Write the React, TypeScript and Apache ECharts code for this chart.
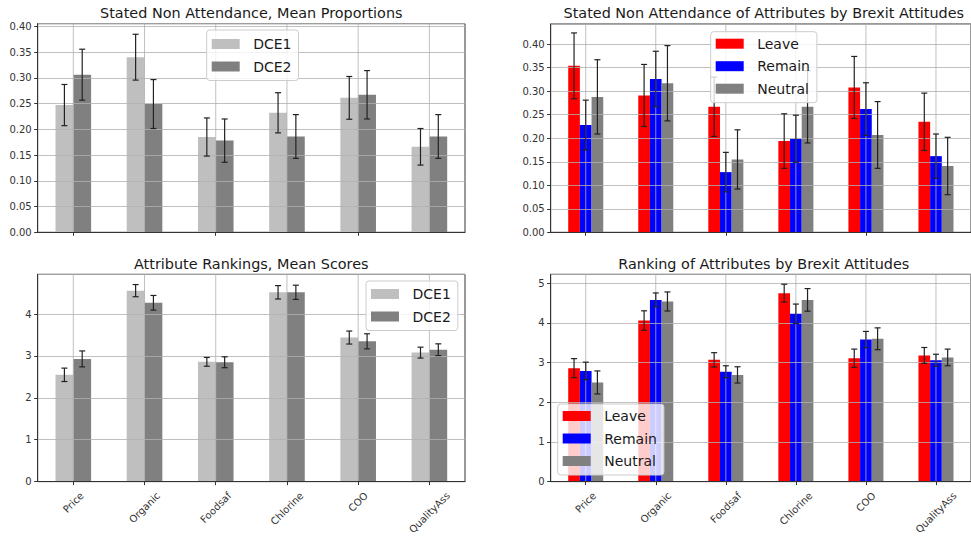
import React, { useEffect, useRef } from 'react';
import * as echarts from 'echarts';

const FONT = '"DejaVu Sans", sans-serif';

const categories = ['Price', 'Organic', 'Foodsaf', 'Chlorine', 'COO', 'QualityAss'];

// Stated Non Attendance, Mean Proportions
const snaDce1 = [0.247, 0.340, 0.185, 0.232, 0.261, 0.166];
const snaDce1Err = [0.040, 0.0445, 0.037, 0.039, 0.0415, 0.0355];
const snaDce2 = [0.306, 0.249, 0.178, 0.186, 0.267, 0.186];
const snaDce2Err = [0.0495, 0.0475, 0.042, 0.0425, 0.047, 0.0425];

// Stated Non Attendance of Attributes by Brexit Attitudes
const snaLeave = [0.354, 0.291, 0.267, 0.194, 0.308, 0.235];
const snaLeaveErr = [0.070, 0.066, 0.063, 0.058, 0.066, 0.061];
const snaRemain = [0.228, 0.326, 0.128, 0.199, 0.262, 0.162];
const snaRemainErr = [0.053, 0.059, 0.042, 0.050, 0.056, 0.047];
const snaNeutral = [0.288, 0.317, 0.155, 0.267, 0.207, 0.141];
const snaNeutralErr = [0.079, 0.080, 0.063, 0.077, 0.071, 0.061];

// Attribute Rankings, Mean Scores
const rankDce1 = [2.55, 4.56, 2.86, 4.52, 3.44, 3.08];
const rankDce1Err = [0.16, 0.145, 0.105, 0.16, 0.155, 0.13];
const rankDce2 = [2.93, 4.27, 2.85, 4.52, 3.35, 3.15];
const rankDce2Err = [0.19, 0.175, 0.13, 0.17, 0.18, 0.14];

// Ranking of Attributes by Brexit Attitudes
const rankLeave = [2.86, 4.06, 3.07, 4.75, 3.11, 3.18];
const rankLeaveErr = [0.24, 0.245, 0.18, 0.225, 0.23, 0.20];
const rankRemain = [2.79, 4.58, 2.77, 4.23, 3.58, 3.06];
const rankRemainErr = [0.22, 0.175, 0.15, 0.245, 0.205, 0.15];
const rankNeutral = [2.50, 4.54, 2.69, 4.58, 3.60, 3.13];
const rankNeutralErr = [0.29, 0.24, 0.205, 0.285, 0.275, 0.21];

const titles = [
  'Stated Non Attendance, Mean Proportions',
  'Stated Non Attendance of Attributes by Brexit Attitudes',
  'Attribute Rankings, Mean Scores',
  'Ranking of Attributes by Brexit Attitudes',
];

const COLORS: Record<string, string> = {
  DCE1: '#bfbfbf',
  DCE2: '#808080',
  Leave: '#ff0000',
  Remain: '#0000ff',
  Neutral: '#808080',
};

const GRIDS = [
  { left: 37.7, top: 23.7, width: 427.3, height: 208.6 },
  { left: 550.7, top: 24, width: 426.2, height: 208.3 },
  { left: 37.7, top: 274.3, width: 427.3, height: 209 },
  { left: 550.7, top: 274.3, width: 426.2, height: 209 },
];

const Y_MAX = [0.405, 0.443, 4.95, 5.225];
const Y_INTERVAL = [0.05, 0.05, 1, 1];

const GRID_COLOR = '#b0b0b0';
const AXIS_COLOR = '#333333';

function measure(text: string): number {
  const c = document.createElement('canvas').getContext('2d');
  if (!c) return text.length * 6;
  c.font = '10px "DejaVu Sans"';
  return c.measureText(text).width;
}

function barSeries(name: string, data: number[], gi: number, width: string) {
  return {
    type: 'bar',
    name,
    data,
    xAxisIndex: gi,
    yAxisIndex: gi,
    barWidth: width,
    barGap: '0%',
    itemStyle: { color: COLORS[name] },
    z: 2,
    silent: true,
  };
}

function errSeries(values: number[], errs: number[], gi: number, offset: number) {
  return {
    type: 'custom',
    xAxisIndex: gi,
    yAxisIndex: gi,
    z: 5,
    silent: true,
    data: values.map((v, i) => [i, v, errs[i]]),
    renderItem: (params: any, api: any) => {
      const i = api.value(0);
      const v = api.value(1);
      const e = api.value(2);
      const band = api.size([1, 0])[0];
      const x = api.coord([i, v])[0] + offset * band;
      const yt = api.coord([i, v + e])[1];
      const yb = api.coord([i, v - e])[1];
      const style = { stroke: '#222222', lineWidth: 1.2 };
      return {
        type: 'group',
        children: [
          { type: 'line', shape: { x1: x, y1: yt, x2: x, y2: yb }, style },
          { type: 'line', shape: { x1: x - 3, y1: yt, x2: x + 3, y2: yt }, style },
          { type: 'line', shape: { x1: x - 3, y1: yb, x2: x + 3, y2: yb }, style },
        ],
      };
    },
  };
}

function vGridSeries(gi: number) {
  return {
    type: 'custom',
    xAxisIndex: gi,
    yAxisIndex: gi,
    z: 3,
    silent: true,
    data: categories.map((_, i) => [i, 0]),
    renderItem: (params: any, api: any) => {
      const x = api.coord([api.value(0), 0])[0];
      const cs = params.coordSys;
      return {
        type: 'line',
        shape: { x1: x, y1: cs.y, x2: x, y2: cs.y + cs.height },
        style: { stroke: GRID_COLOR, lineWidth: 0.8 },
      };
    },
  };
}

function legend(names: string[], left: number, top: number, padding: number[]) {
  return {
    data: names.map((n) => ({ name: n, icon: 'rect' })),
    orient: 'vertical',
    left,
    top,
    padding,
    itemWidth: 28,
    itemHeight: 10,
    itemGap: 6.5,
    backgroundColor: 'rgba(255,255,255,0.8)',
    borderColor: '#cccccc',
    borderWidth: 1,
    borderRadius: 3,
    selectedMode: false,
    z: 10,
    textStyle: {
      fontSize: 14,
      lineHeight: 16,
      color: '#1a1a1a',
      fontFamily: FONT,
      padding: [0, 0, 0, 8.5],
    },
  };
}

export default function App() {
  const ref = useRef<HTMLDivElement>(null);

  useEffect(() => {
    if (!ref.current) return;
    const chart = echarts.init(ref.current, undefined, { renderer: 'svg' });

    const rich: Record<string, any> = {};
    categories.forEach((c, i) => {
      const P = 0.5 * (measure(c) + 12);
      rich['r' + i] = { padding: [P, P, 0, 0], fontSize: 10, fontFamily: FONT, color: AXIS_COLOR };
    });

    const xAxes = GRIDS.map((_, gi) => ({
      type: 'category',
      gridIndex: gi,
      data: categories,
      boundaryGap: true,
      z: 3,
      axisLine: { show: true, lineStyle: { color: AXIS_COLOR, width: 1 } },
      axisTick: { show: true, alignWithLabel: true, length: 3.5, lineStyle: { color: AXIS_COLOR } },
      splitLine: { show: false },
      axisLabel:
        gi < 2
          ? { show: false }
          : {
              show: true,
              interval: 0,
              rotate: 45,
              margin: 8,
              align: 'center',
              verticalAlign: 'middle',
              fontSize: 10,
              fontFamily: FONT,
              color: AXIS_COLOR,
              formatter: (v: string, idx: number) => `{r${idx}|${v}}`,
              rich,
            },
    }));

    const yAxes = GRIDS.map((_, gi) => ({
      type: 'value',
      gridIndex: gi,
      min: 0,
      max: Y_MAX[gi],
      interval: Y_INTERVAL[gi],
      z: 3,
      axisLine: { show: true, lineStyle: { color: AXIS_COLOR, width: 1 } },
      axisTick: { show: true, length: 3.5, lineStyle: { color: AXIS_COLOR } },
      splitLine: { show: true, lineStyle: { color: GRID_COLOR, width: 0.8 } },
      axisLabel: {
        show: true,
        margin: 6,
        fontSize: 10,
        fontFamily: FONT,
        color: AXIS_COLOR,
        showMaxLabel: false,
        formatter: (v: number) => (gi < 2 ? v.toFixed(2) : String(Math.round(v))),
      },
    }));

    const titleCenters = [251.3, 763.8, 251.3, 763.8];
    const titleTops = [5.5, 5.5, 256.5, 256.5];

    const option: any = {
      animation: false,
      backgroundColor: '#ffffff',
      title: titles.map((t, i) => ({
        text: t,
        left: titleCenters[i],
        top: titleTops[i],
        textAlign: 'center',
        padding: 0,
        textStyle: { fontSize: 14.4, fontWeight: 'normal', color: '#1a1a1a', fontFamily: FONT },
      })),
      grid: GRIDS.map((g) => ({
        ...g,
        show: true,
        borderColor: AXIS_COLOR,
        borderWidth: 1,
        backgroundColor: 'transparent',
        containLabel: false,
      })),
      xAxis: xAxes,
      yAxis: yAxes,
      legend: [
        legend(['DCE1', 'DCE2'], 206.7, 30, [6, 7, 6, 5]),
        legend(['Leave', 'Remain', 'Neutral'], 710.7, 31.7, [4, 7, 6, 5]),
        legend(['DCE1', 'DCE2'], 366, 281, [5, 7, 6, 5]),
        legend(['Leave', 'Remain', 'Neutral'], 557.7, 404, [4, 7, 6, 5]),
      ],
      series: [
        vGridSeries(0),
        vGridSeries(1),
        vGridSeries(2),
        vGridSeries(3),
        barSeries('DCE1', snaDce1, 0, '25%'),
        barSeries('DCE2', snaDce2, 0, '25%'),
        errSeries(snaDce1, snaDce1Err, 0, -0.125),
        errSeries(snaDce2, snaDce2Err, 0, 0.125),
        barSeries('Leave', snaLeave, 1, '16.667%'),
        barSeries('Remain', snaRemain, 1, '16.667%'),
        barSeries('Neutral', snaNeutral, 1, '16.667%'),
        errSeries(snaLeave, snaLeaveErr, 1, -1 / 6),
        errSeries(snaRemain, snaRemainErr, 1, 0),
        errSeries(snaNeutral, snaNeutralErr, 1, 1 / 6),
        barSeries('DCE1', rankDce1, 2, '25%'),
        barSeries('DCE2', rankDce2, 2, '25%'),
        errSeries(rankDce1, rankDce1Err, 2, -0.125),
        errSeries(rankDce2, rankDce2Err, 2, 0.125),
        barSeries('Leave', rankLeave, 3, '16.667%'),
        barSeries('Remain', rankRemain, 3, '16.667%'),
        barSeries('Neutral', rankNeutral, 3, '16.667%'),
        errSeries(rankLeave, rankLeaveErr, 3, -1 / 6),
        errSeries(rankRemain, rankRemainErr, 3, 0),
        errSeries(rankNeutral, rankNeutralErr, 3, 1 / 6),
      ],
    };

    chart.setOption(option);
    return () => {
      chart.dispose();
    };
  }, []);

  return (
    <div
      ref={ref}
      style={{ position: 'fixed', left: 0, top: 0, width: 971, height: 537, background: '#ffffff' }}
    />
  );
}
